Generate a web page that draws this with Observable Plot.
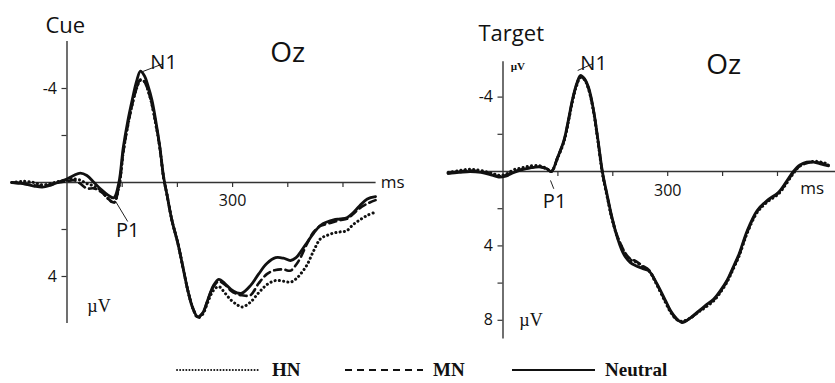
<!DOCTYPE html>
<html>
<head>
<meta charset="utf-8">
<script src="https://cdn.jsdelivr.net/npm/d3@7"></script>
<script src="https://cdn.jsdelivr.net/npm/@observablehq/plot@0.6"></script>
<style>
  body { margin: 0; background: #fff; }
  #chart { position: relative; width: 835px; height: 383px; overflow: hidden; font-family: "Open Sans", sans-serif; }
  #chart svg.panel { position: absolute; top: 0; overflow: visible; }
  #legend { position: absolute; left: 0; top: 0; }
</style>
</head>
<body>
<div id="chart"></div>
<script>
// ---------- data ----------
const conditions = ["HN", "MN", "Neutral"];

// Cue panel (Oz), time in ms, amplitude in µV (negative up)
const cueTime = [-100, -80, -60, -45, -30, -15, 0, 12, 24, 36, 49, 62, 75, 85, 94, 102, 110, 118, 126, 133, 140, 147, 154, 161, 168, 175, 181, 190, 201, 210, 219, 228, 237, 246, 255, 265, 275, 286, 297, 308, 317, 332, 347, 362, 378, 392, 405, 415, 423, 435, 447, 459, 471, 483, 495, 507, 518, 530, 544, 559];
const cueNeutral = [0.0, 0.05, 0.15, 0.2, 0.12, -0.02, -0.15, -0.3, -0.4, -0.3, 0.0, 0.3, 0.55, 0.65, 0.0, -1.5, -2.6, -3.5, -4.3, -4.74, -4.55, -4.1, -3.5, -2.6, -1.55, -0.25, 0.5, 1.6, 2.6, 3.6, 4.6, 5.35, 5.72, 5.55, 5.0, 4.4, 4.12, 4.3, 4.55, 4.7, 4.71, 4.4, 3.9, 3.45, 3.2, 3.22, 3.32, 3.2, 2.96, 2.55, 2.15, 1.83, 1.68, 1.59, 1.55, 1.5, 1.3, 1.0, 0.7, 0.6];
const cueMN = [0.0, 0.05, 0.12, 0.15, 0.1, 0.0, -0.05, -0.1, 0.05, 0.25, 0.25, 0.4, 0.7, 0.85, 0.2, -1.3, -2.4, -3.3, -4.0, -4.38, -4.3, -3.9, -3.3, -2.5, -1.5, -0.2, 0.5, 1.6, 2.6, 3.6, 4.6, 5.35, 5.72, 5.55, 5.0, 4.45, 4.2, 4.35, 4.6, 4.75, 4.8, 4.8, 4.3, 3.9, 3.72, 3.7, 3.75, 3.5, 3.2, 2.6, 2.1, 1.85, 1.76, 1.68, 1.6, 1.55, 1.35, 1.1, 0.9, 0.75];
const cueHN = [0.0, -0.05, 0.0, 0.1, 0.05, -0.05, -0.1, -0.15, -0.1, 0.05, 0.15, 0.35, 0.7, 0.85, 0.2, -1.3, -2.4, -3.3, -4.0, -4.35, -4.3, -3.9, -3.3, -2.45, -1.5, -0.2, 0.5, 1.6, 2.6, 3.6, 4.6, 5.35, 5.75, 5.6, 5.1, 4.6, 4.43, 4.7, 5.0, 5.2, 5.3, 5.1, 4.7, 4.35, 4.17, 4.2, 4.24, 4.1, 3.9, 3.5, 2.9, 2.4, 2.25, 2.15, 2.1, 2.05, 1.8, 1.6, 1.4, 1.26];

// Target panel (Oz)
const targetTime = [-100, -80, -60, -40, -20, -8, 5, 20, 35, 50, 68, 80, 88, 100, 111, 120, 126, 134, 141, 148, 156, 165, 173, 181, 190, 198, 208, 216, 223, 232, 241, 253, 266, 276, 287, 297, 305, 316, 326, 340, 354, 369, 384, 396, 408, 420, 430, 445, 463, 481, 502, 515, 529, 541, 553, 566, 580, 593];
const targetNeutral = [0.1, 0.05, 0.0, 0.05, 0.2, 0.3, 0.25, 0.05, -0.1, -0.2, -0.25, -0.15, 0.0, -0.8, -1.67, -2.9, -3.8, -4.7, -5.16, -5.0, -4.5, -3.28, -1.7, 0.0, 1.3, 2.4, 3.53, 4.2, 4.6, 4.9, 5.05, 5.2, 5.35, 5.8, 6.4, 7.0, 7.47, 7.9, 8.12, 7.9, 7.56, 7.2, 6.85, 6.4, 5.86, 5.1, 4.43, 3.17, 2.1, 1.56, 1.11, 0.6, 0.0, -0.35, -0.5, -0.5, -0.4, -0.3];
const targetMN = [0.1, 0.0, -0.05, 0.0, 0.15, 0.25, 0.2, 0.0, -0.12, -0.2, -0.25, -0.12, 0.0, -0.8, -1.65, -2.85, -3.75, -4.65, -5.1, -4.98, -4.45, -3.25, -1.65, 0.05, 1.35, 2.45, 3.45, 4.0, 4.4, 4.7, 4.8, 5.05, 5.3, 5.8, 6.45, 7.05, 7.5, 7.95, 8.1, 7.92, 7.6, 7.25, 6.9, 6.45, 5.9, 5.15, 4.5, 3.25, 2.15, 1.6, 1.15, 0.65, 0.05, -0.3, -0.45, -0.5, -0.45, -0.35];
const targetHN = [0.05, -0.05, -0.12, -0.05, 0.1, 0.2, 0.15, -0.1, -0.2, -0.3, -0.3, -0.15, 0.0, -0.75, -1.6, -2.8, -3.7, -4.6, -5.05, -4.95, -4.4, -3.2, -1.6, 0.1, 1.4, 2.5, 3.5, 4.05, 4.45, 4.75, 4.85, 5.1, 5.35, 5.85, 6.5, 7.1, 7.55, 7.95, 8.05, 7.9, 7.6, 7.3, 6.95, 6.5, 5.95, 5.2, 4.55, 3.3, 2.2, 1.65, 1.2, 0.7, 0.1, -0.3, -0.45, -0.55, -0.5, -0.4];

// axis ticks
const xTicks = [100, 200, 300, 400, 500];
const xLabels = [300];
const cueYTicks = [-4, -2, 2, 4];
const cueYLabels = [-4, 4];
const targetYTicks = [-4, -2, 2, 4, 6, 8];
const targetYLabels = [-4, 4, 8];

// annotations (data coordinates: ms, µV)
const cueTitle = [{label: "Cue", t: -3, v: -6.68}];
const targetTitle = [{label: "Target", t: 15, v: -7.37}];
const cueSite = [{label: "Oz", t: 400, v: -5.49}];
const targetSite = [{label: "Oz", t: 402, v: -5.75}];
const cueComponents = [{label: "N1", t: 175, v: -5.12, anchor: "start"}, {label: "P1", t: 110, v: 2.04, anchor: "middle"}];
const targetComponents = [{label: "N1", t: 165, v: -5.8, anchor: "start"}, {label: "P1", t: 94, v: 1.6, anchor: "middle"}];
const cueLeaders = [{t1: 137, v1: -4.72, t2: 174, v2: -5.05}, {t1: 88, v1: 0.8, t2: 110, v2: 1.66}];
const targetLeaders = [{t1: 136, v1: -5.43, t2: 164, v2: -5.8}, {t1: 86.5, v1: 0.48, t2: 92.5, v2: 0.93}];
const cueUnitX = [{label: "ms", t: 590, v: 0.0, anchor: "middle"}];
const targetUnitX = [{label: "ms", t: 563, v: 0.9, anchor: "start"}];
const cueUnitY = [{label: "\u00b5V", t: 58, v: 5.28}];
const targetUnitY = [{label: "\u00b5V", t: 51, v: 8.0}];
const targetUnitYTop = [{label: "\u00b5V", t: 27, v: -5.65}];

// legend
const legendLabels = ["HN", "MN", "Neutral"];

// ---------- drawing ----------
const ink = "#111";
const axisInk = "#333";
const lineStyles = {
  HN: {strokeDasharray: "0.1 4.2", strokeLinecap: "round", strokeWidth: 3.0},
  MN: {strokeDasharray: "7 4.5", strokeWidth: 2.6},
  Neutral: {strokeWidth: 2.8}
};

function rowsOf(time, values) {
  return time.map((t, i) => ({t, v: values[i]}));
}

function panel(cfg) {
  const marks = [
    Plot.ruleY([0], {x1: cfg.xAxis[0], x2: cfg.xAxis[1], stroke: axisInk, strokeWidth: 1.4}),
    Plot.ruleX([0], {y1: cfg.yAxis[0], y2: cfg.yAxis[1], stroke: axisInk, strokeWidth: 1.4}),
    Plot.ruleX(xTicks, {x: d => d, y1: 0, y2: 0, insetBottom: -5, stroke: axisInk, strokeWidth: 1.2}),
    Plot.ruleY(cfg.yTicks, {y: d => d, x1: 0, x2: 0, insetLeft: -5, stroke: axisInk, strokeWidth: 1.2}),
    Plot.text(cfg.yLabels, {x: 0, y: d => d, text: d => String(d), dx: -10, textAnchor: "end", fontSize: 16, fill: ink}),
    Plot.text(xLabels, {x: d => d, y: 0, text: d => String(d), dy: cfg.xLabelDy, fontSize: 16, fill: ink}),
    ...conditions.map((c, k) =>
      Plot.line(rowsOf(cfg.time, cfg.series[k]), {x: "t", y: "v", curve: "catmull-rom", stroke: ink, ...lineStyles[c]})
    ),
    Plot.link(cfg.leaders, {x1: "t1", y1: "v1", x2: "t2", y2: "v2", stroke: "#222", strokeWidth: 1}),
    Plot.text(cfg.title, {x: "t", y: "v", text: "label", fontSize: 22, fill: ink}),
    Plot.text(cfg.site, {x: "t", y: "v", text: "label", fontSize: 28, fill: ink}),
    Plot.text(cfg.components, {x: "t", y: "v", text: "label", textAnchor: d => d.anchor, fontSize: 20, fill: ink}),
    Plot.text(cfg.unitX, {x: "t", y: "v", text: "label", textAnchor: d => d.anchor, fontSize: 17, fill: ink}),
    Plot.text(cfg.unitY, {x: "t", y: "v", text: "label", fontSize: 18, fontFamily: "Liberation Serif", fill: ink})
  ];
  if (cfg.unitYTop) {
    marks.push(Plot.text(cfg.unitYTop, {x: "t", y: "v", text: "label", fontSize: 11, fontWeight: "bold", fontFamily: "Liberation Serif", fill: ink}));
  }
  const svg = Plot.plot({
    width: cfg.width,
    height: cfg.height,
    margin: 0,
    style: {background: "transparent", fontFamily: "Open Sans, sans-serif", color: ink, overflow: "visible"},
    x: {type: "linear", domain: cfg.xDomain, range: cfg.xRange, axis: null},
    y: {type: "linear", domain: cfg.yDomain, range: cfg.yRange, axis: null},
    marks
  });
  svg.classList.add("panel");
  svg.style.left = cfg.left + "px";
  return svg;
}

const chart = document.getElementById("chart");

chart.appendChild(panel({
  left: 0, width: 420, height: 345,
  time: cueTime, series: [cueHN, cueMN, cueNeutral],
  xDomain: [-100, 560], xRange: [11.3, 375.6],
  yDomain: [-6, 6], yRange: [41, 323],
  xAxis: [-100, 560], yAxis: [-6, 6],
  yTicks: cueYTicks, yLabels: cueYLabels, xLabelDy: 18,
  title: cueTitle, site: cueSite, components: cueComponents, leaders: cueLeaders,
  unitX: cueUnitX, unitY: cueUnitY
}));

chart.appendChild(panel({
  left: 420, width: 415, height: 345,
  time: targetTime, series: [targetHN, targetMN, targetNeutral],
  xDomain: [-100, 600], xRange: [27.6, 411.9],
  yDomain: [-6, 9], yRange: [59.4, 338.4],
  xAxis: [-100, 615], yAxis: [-5.9, 9],
  yTicks: targetYTicks, yLabels: targetYLabels, xLabelDy: 19,
  title: targetTitle, site: targetSite, components: targetComponents, leaders: targetLeaders,
  unitX: targetUnitX, unitY: targetUnitY, unitYTop: targetUnitYTop
}));

// ---------- legend ----------
const legendLayout = [
  {x1: 177, x2: 260, tx: 272},
  {x1: 345, x2: 423, tx: 433},
  {x1: 512, x2: 595, tx: 605}
];
const legendStyle = {
  HN: {dash: "0.1 3", cap: "round", w: 1.9},
  MN: {dash: "7 5", cap: "butt", w: 1.9},
  Neutral: {dash: null, cap: "butt", w: 1.9}
};
const legendY = 370;
const lg = d3.select(chart).append("svg").attr("id", "legend").attr("width", 835).attr("height", 383);
legendLabels.forEach((label, i) => {
  const it = legendLayout[i];
  const s = legendStyle[label];
  lg.append("line").attr("x1", it.x1).attr("x2", it.x2).attr("y1", legendY).attr("y2", legendY)
    .attr("stroke", ink).attr("stroke-width", s.w).attr("stroke-linecap", s.cap)
    .attr("stroke-dasharray", s.dash);
  lg.append("text").attr("x", it.tx).attr("y", legendY).attr("dy", "0.34em")
    .attr("font-family", "Liberation Serif, serif").attr("font-size", 19).attr("font-weight", "bold")
    .attr("fill", ink).text(label);
});
</script>
</body>
</html>
